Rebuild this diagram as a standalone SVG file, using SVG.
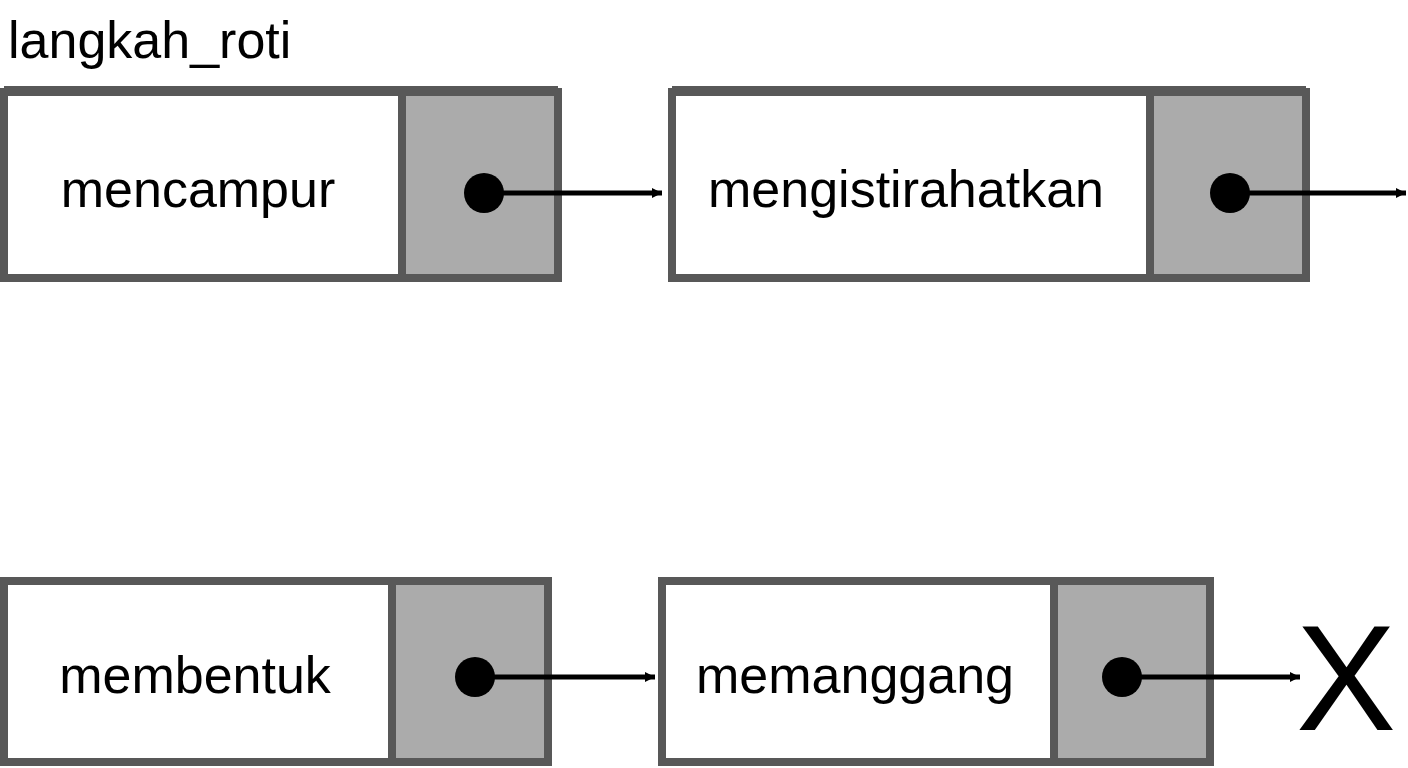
<svg xmlns="http://www.w3.org/2000/svg" width="1408" height="768" viewBox="0 0 1408 768">
<style>
.box{fill:#fff;stroke:#585858;stroke-width:8}
.ptr{fill:#ababab;stroke:#585858;stroke-width:8}
.lbl{font-family:"Liberation Sans",Arial,sans-serif;font-size:52px;fill:#000;text-anchor:middle}
.ln{stroke:#000;stroke-width:5}
</style>
<defs>
<marker id="ah" viewBox="0 0 10 10" refX="10" refY="5" markerWidth="10" markerHeight="10" markerUnits="userSpaceOnUse" orient="auto">
<path d="M0,0 L10,5 L0,10 Z" fill="#000"/>
</marker>
</defs>
<rect width="1408" height="768" fill="#fff"/>
<text x="8" y="58" font-family="Liberation Sans,Arial,sans-serif" font-size="52" fill="#000">langkah_roti</text>
<g id="n1">
<rect class="box" x="4" y="92" width="398" height="186"/>
<rect class="ptr" x="402" y="92" width="156" height="186"/>
<rect x="4" y="86" width="554" height="8" fill="#585858"/>
<text class="lbl" x="198" y="207">mencampur</text>
</g>
<g id="n2">
<rect class="box" x="672" y="92" width="478" height="186"/>
<rect class="ptr" x="1150" y="92" width="156" height="186"/>
<rect x="672" y="86" width="634" height="8" fill="#585858"/>
<text class="lbl" x="906" y="207">mengistirahatkan</text>
</g>
<g id="n3">
<rect class="box" x="4" y="581" width="388" height="181"/>
<rect class="ptr" x="392" y="581" width="156" height="181"/>
<text class="lbl" x="195" y="693">membentuk</text>
</g>
<g id="n4">
<rect class="box" x="662" y="581" width="392" height="181"/>
<rect class="ptr" x="1054" y="581" width="156" height="181"/>
<text class="lbl" x="855" y="693">memanggang</text>
</g>
<g id="x">
<text x="1346" y="730" font-family="Liberation Sans,Arial,sans-serif" font-size="150" text-anchor="middle" fill="#000">X</text>
</g>
<g id="connectors">
<circle cx="484" cy="193" r="20"/>
<line class="ln" x1="484" y1="193" x2="662" y2="193" marker-end="url(#ah)"/>
<circle cx="1230" cy="193" r="20"/>
<line class="ln" x1="1230" y1="193" x2="1406" y2="193" marker-end="url(#ah)"/>
<circle cx="475" cy="677" r="20"/>
<line class="ln" x1="475" y1="677" x2="655" y2="677" marker-end="url(#ah)"/>
<circle cx="1122" cy="677" r="20"/>
<line class="ln" x1="1122" y1="677" x2="1300" y2="677" marker-end="url(#ah)"/>
</g>
<style>#connectors marker path{}</style>
</svg>
